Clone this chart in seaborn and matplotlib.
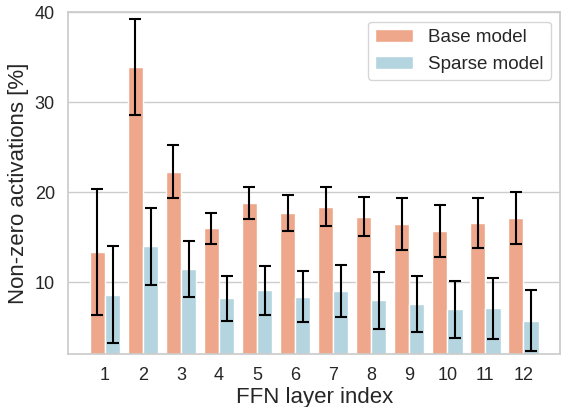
import numpy as np
import pandas as pd
import seaborn as sns
import matplotlib
matplotlib.use("Agg")
import matplotlib.pyplot as plt

layers = [str(i) for i in range(1, 13)]
models = ["Base model", "Sparse model"]
base_mean = [13.4, 33.9, 22.3, 16.0, 18.8, 17.7, 18.4, 17.3, 16.5, 15.7, 16.6, 17.1]
base_err = [7.0, 5.3, 2.9, 1.7, 1.75, 1.95, 2.2, 2.15, 2.9, 2.85, 2.75, 2.9]
sparse_mean = [8.6, 14.0, 11.5, 8.2, 9.1, 8.4, 9.0, 8.0, 7.6, 7.0, 7.1, 5.75]
sparse_err = [5.4, 4.25, 3.1, 2.5, 2.7, 2.8, 2.9, 3.15, 3.15, 3.15, 3.4, 3.35]

sns.set_theme(style="whitegrid")
plt.rcParams["font.family"] = ["Liberation Sans", "DejaVu Sans"]

df = pd.DataFrame({
    "layer": layers * 2,
    "model": [models[0]] * 12 + [models[1]] * 12,
    "value": base_mean + sparse_mean,
})
errs = {models[0]: base_err, models[1]: sparse_err}

fig = plt.figure(figsize=(5.62, 4.07), dpi=100)
ax = fig.add_axes([0.121, 0.1295, 0.876, 0.8405])
sns.barplot(data=df, x="layer", y="value", hue="model", order=layers,
            hue_order=models, palette=["lightsalmon", "lightblue"],
            errorbar=None, ax=ax)

for container, m in zip(ax.containers, models):
    xs = [p.get_x() + p.get_width() / 2 for p in container.patches]
    ys = [p.get_height() for p in container.patches]
    ax.errorbar(xs, ys, yerr=errs[m], fmt="none", ecolor="black",
                elinewidth=1.5, capsize=4.5, capthick=1.5, zorder=5)

ax.set_xlim(-0.97, 11.97)
ax.set_ylim(2, 40)
ax.set_yticks([10, 20, 30, 40])
ax.set_xlabel("FFN layer index", fontsize=16, labelpad=2)
ax.set_ylabel("Non-zero activations [%]", fontsize=16)
ax.tick_params(axis="both", labelsize=13)
ax.legend(title=None, loc="upper right", fontsize=13.5)

fig.savefig("out.png", dpi=100)
